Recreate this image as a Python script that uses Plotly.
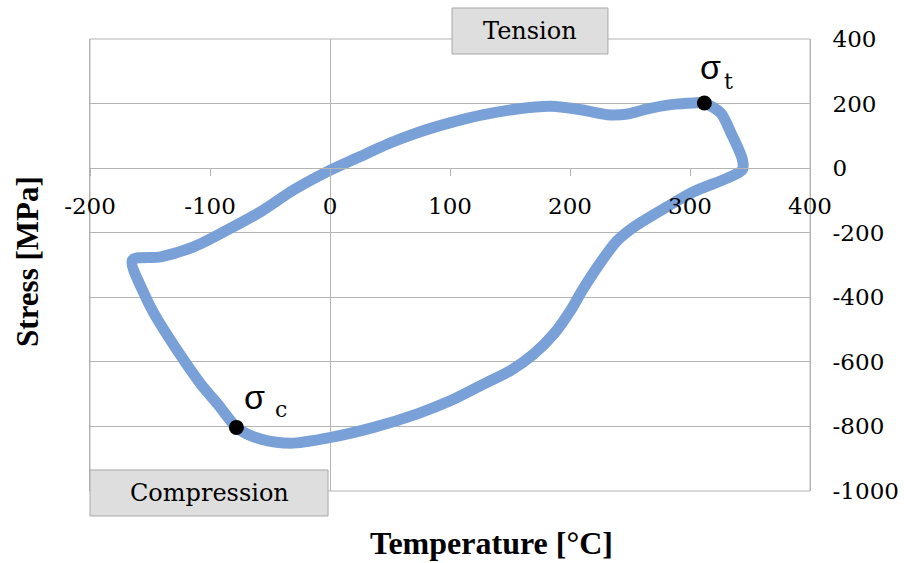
import plotly.graph_objects as go

# Stress-temperature loop
temperature = [
    -164.7, -141, -113.6, -85.5, -57.8, -30.3, -2.2, 22.8, 50.6, 72.8,
    100.6, 128, 156, 184, 209, 231, 248, 264.5, 284, 303, 311.7, 325.6,
    334, 343.7, 343.7, 331, 303.4, 281.2, 255, 239, 224, 210.3,
    200.6, 186.7, 170, 150.6, 128.4, 100.6, 72.8, 36.4, 0.6, -32.8,
    -57, -70, -78, -93.8, -107.8, -127.2, -146.7, -155, -164.7
]
stress = [
    -285, -274.7, -243.6, -191.4, -134.9, -67.4, -10.6, 32, 78.6, 109.7,
    140.8, 165.6, 183.3, 191.4, 181, 165.6, 167.8, 183.3, 196.7, 202, 202, 171,
    110, 26, -5, -31, -72.6, -119, -178, -226, -300, -378,
    -440, -512.7, -575, -626.8, -668, -720, -761, -803, -834, -852,
    -840, -822, -803, -730, -668, -565, -450, -388, -285
]

# Marked points
point_temp = [312, -78]
point_stress = [202, -803]

x_ticks = [-200, -100, 0, 100, 200, 300, 400]
x_labels = ["-200", "-100", "0", "100", "200", "300", "400"]
y_ticks = [-1000, -800, -600, -400, -200, 0, 200, 400]
y_labels = ["-1000", "-800", "-600", "-400", "-200", "0", "200", "400"]

serif = "DejaVu Serif"
bold_serif = "Liberation Serif"
grid = "#b4b4b4"

fig = go.Figure()
fig.add_trace(go.Scatter(
    x=temperature, y=stress, mode="lines",
    line=dict(color="#7aa0d8", width=11, shape="spline", smoothing=0.8),
    hoverinfo="skip", showlegend=False
))
fig.add_trace(go.Scatter(
    x=point_temp, y=point_stress, mode="markers",
    marker=dict(color="black", size=15),
    showlegend=False
))

fig.update_layout(
    width=904, height=563,
    margin=dict(l=90, r=94, t=39, b=72),
    plot_bgcolor="white", paper_bgcolor="white",
    font=dict(family=serif, size=23, color="black"),
    xaxis=dict(
        range=[-200, 400], tickvals=x_ticks, ticktext=x_labels,
        showgrid=False, automargin=False,
        zeroline=True, zerolinecolor=grid, zerolinewidth=1,
        anchor="free", position=1000 / 1400,
        showline=True, linecolor=grid, linewidth=1,
        ticks="outside", ticklen=7, tickcolor=grid,
        ticklabelstandoff=10,
    ),
    yaxis=dict(
        range=[-1000, 400], tickvals=y_ticks, ticktext=y_labels,
        side="right", automargin=False,
        showgrid=True, gridcolor=grid, gridwidth=1,
        zeroline=False, showline=True, mirror=True, linecolor=grid,
        ticks="", ticklabelstandoff=17,
    ),
)

# Plot frame
fig.add_shape(type="rect", xref="x domain", yref="y domain",
              x0=0, x1=1, y0=0, y1=1, line=dict(color=grid, width=1),
              layer="below")

# Tension / Compression labels
box = dict(type="rect", xref="paper", yref="paper",
           fillcolor="#dedede", line=dict(color="#a8a8a8", width=1))
fig.add_shape(x0=0.5028, x1=0.7194, y0=0.9668, y1=1.0686, **box)
fig.add_shape(x0=0.0, x1=0.3306, y0=-0.0553, y1=0.0465, **box)

centered = dict(xref="paper", yref="paper", showarrow=False,
                xanchor="center", yanchor="middle")
fig.add_annotation(x=0.611, y=1.0175, text="Tension",
                   font=dict(family=serif, size=24), **centered)
fig.add_annotation(x=0.1653, y=-0.005, text="Compression",
                   font=dict(family=serif, size=24), **centered)

# sigma labels
fig.add_annotation(x=317, y=312, text="σ", showarrow=False,
                   font=dict(family="Liberation Sans", size=34))
fig.add_annotation(x=332, y=268, text="t", showarrow=False,
                   font=dict(family=serif, size=22))
fig.add_annotation(x=-63, y=-710, text="σ", showarrow=False,
                   font=dict(family="Liberation Sans", size=34))
fig.add_annotation(x=-41, y=-748, text="c", showarrow=False,
                   font=dict(family=serif, size=22))

# Axis titles
fig.add_annotation(x=0.558, y=-0.115, text="<b>Temperature [°C]</b>",
                   font=dict(family=bold_serif, size=32), **centered)
fig.add_annotation(x=-0.086, y=0.507, text="<b>Stress [MPa]</b>", textangle=-90,
                   font=dict(family=bold_serif, size=31), **centered)

fig.write_html("out.html", config={"displayModeBar": False},
               post_script="document.body.style.margin='0';")
